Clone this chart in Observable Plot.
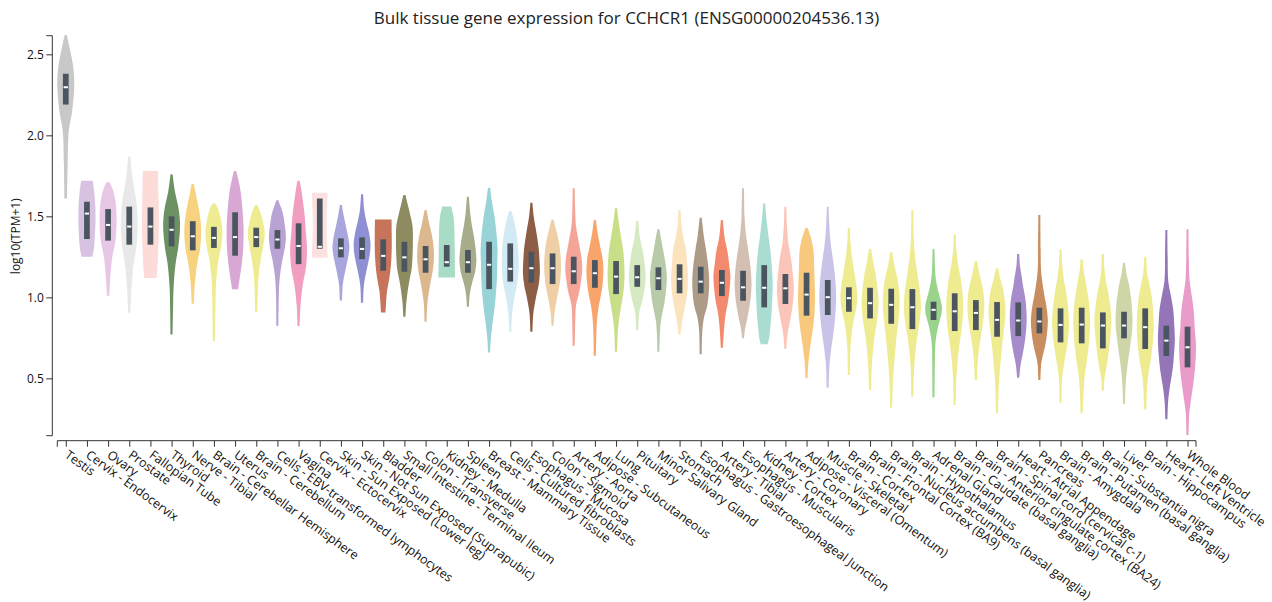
<!DOCTYPE html>
<html>
<head>
<meta charset="utf-8">
<script src="https://cdn.jsdelivr.net/npm/d3@7"></script>
<script src="https://cdn.jsdelivr.net/npm/@observablehq/plot@0.6"></script>
<style>
  html, body { margin: 0; padding: 0; background: #fff; }
  body { width: 1272px; height: 602px; overflow: hidden; font-family: "Open Sans", sans-serif; }
  #title { height: 30px; box-sizing: border-box; padding: 6px 76px 0 57px; text-align: center; font-size: 17px; line-height: 23px; color: #222; }
  svg { display: block; }
</style>
</head>
<body>
<div id="title">Bulk tissue gene expression for CCHCR1 (ENSG00000204536.13)</div>
<div id="chart"></div>
<script>
const tissues = [
  "Testis", "Cervix - Endocervix", "Ovary", "Prostate", "Fallopian Tube", "Thyroid",
  "Nerve - Tibial", "Brain - Cerebellar Hemisphere", "Uterus", "Brain - Cerebellum",
  "Cells - EBV-transformed lymphocytes", "Vagina", "Cervix - Ectocervix",
  "Skin - Sun Exposed (Lower leg)", "Skin - Not Sun Exposed (Suprapubic)", "Bladder",
  "Small Intestine - Terminal Ileum", "Colon - Transverse", "Kidney - Medulla", "Spleen",
  "Breast - Mammary Tissue", "Cells - Cultured fibroblasts", "Esophagus - Mucosa",
  "Colon - Sigmoid", "Artery - Aorta", "Adipose - Subcutaneous", "Lung", "Pituitary",
  "Minor Salivary Gland", "Stomach", "Esophagus - Gastroesophageal Junction",
  "Artery - Tibial", "Esophagus - Muscularis", "Kidney - Cortex", "Artery - Coronary",
  "Adipose - Visceral (Omentum)", "Muscle - Skeletal", "Brain - Cortex",
  "Brain - Frontal Cortex (BA9)", "Brain - Nucleus accumbens (basal ganglia)",
  "Brain - Hypothalamus", "Adrenal Gland", "Brain - Caudate (basal ganglia)",
  "Brain - Anterior cingulate cortex (BA24)", "Brain - Spinal cord (cervical c-1)",
  "Heart - Atrial Appendage", "Pancreas", "Brain - Amygdala", "Brain - Putamen (basal ganglia)",
  "Brain - Substantia nigra", "Liver", "Brain - Hippocampus", "Heart - Left Ventricle", "Whole Blood"
];

const colors = [
  "#c8c8c8", "#d7c2e2", "#e7c6e6", "#e8e8e8", "#fddbd8", "#6c9162",
  "#f8d37f", "#eeeb90", "#d8a7d3", "#eeeb90",
  "#b9a3d5", "#f29ec0", "#fde0e0",
  "#a8a6dc", "#8f8fd3", "#c8745b",
  "#8f8b60", "#dcb88e", "#a8dcc6", "#a8ac8b",
  "#97d3d7", "#d1eaf3", "#8d5e45",
  "#efd0a6", "#f5a597", "#f8a46b", "#c8df87", "#d5e9c3",
  "#b9caa9", "#fbe4bd", "#ad9b88",
  "#f38a6d", "#d4c0b2", "#a9ddd1", "#fbc6b9",
  "#f8c97c", "#c9c4e7", "#eeeb90",
  "#eeeb90", "#eeeb90",
  "#eeeb90", "#9ad38c", "#eeeb90",
  "#eeeb90", "#eeeb90",
  "#a68ccb", "#c98e5f", "#eeeb90", "#eeeb90",
  "#eeeb90", "#ced6a8", "#eeeb90", "#9475b8", "#e99bc9"
];

const q1 = [2.19, 1.36, 1.35, 1.325, 1.325, 1.315, 1.29, 1.305, 1.257, 1.31, 1.30, 1.205, 1.30,
  1.247, 1.236, 1.164, 1.158, 1.152, 1.189, 1.152, 1.051, 1.097, 1.09, 1.082, 1.082, 1.059,
  1.02, 1.065, 1.045, 1.025, 1.025, 1.008, 0.979, 0.938, 0.959, 0.887, 0.891, 0.911, 0.87,
  0.837, 0.804, 0.86, 0.792, 0.798, 0.757, 0.761, 0.778, 0.722, 0.716, 0.685, 0.747, 0.681,
  0.638, 0.568];
const medians = [2.30, 1.52, 1.45, 1.44, 1.44, 1.42, 1.38, 1.37, 1.375, 1.375, 1.36, 1.32, 1.315,
  1.306, 1.302, 1.259, 1.25, 1.238, 1.22, 1.22, 1.204, 1.179, 1.183, 1.183, 1.164, 1.152,
  1.131, 1.127, 1.121, 1.117, 1.10, 1.093, 1.065, 1.062, 1.059, 1.02, 1.004, 0.998, 0.967,
  0.957, 0.942, 0.926, 0.917, 0.907, 0.864, 0.86, 0.854, 0.833, 0.835, 0.829, 0.829, 0.819,
  0.736, 0.695];
const q3 = [2.38, 1.59, 1.545, 1.56, 1.555, 1.50, 1.47, 1.435, 1.525, 1.43, 1.415, 1.457, 1.61,
  1.364, 1.37, 1.358, 1.343, 1.317, 1.323, 1.292, 1.343, 1.333, 1.282, 1.271, 1.251, 1.23,
  1.224, 1.199, 1.185, 1.204, 1.189, 1.169, 1.164, 1.199, 1.144, 1.152, 1.107, 1.062, 1.059,
  1.053, 1.051, 0.973, 1.025, 0.983, 0.971, 0.969, 0.936, 0.932, 0.936, 0.907, 0.911, 0.932,
  0.825, 0.819];

// violin outlines: [log10(TPM+1), relative half-width]
const shapes = [
  [[1.61,0.08],[1.83,0.15],[2.03,0.3],[2.14,0.7],[2.3,1],[2.42,0.88],[2.53,0.45],[2.62,0.04]],
  [[1.25,0.6],[1.3,0.8],[1.45,1],[1.55,1],[1.65,0.85],[1.72,0.65]],
  [[1.01,0.06],[1.13,0.2],[1.25,0.45],[1.35,0.85],[1.47,1],[1.58,0.9],[1.66,0.55],[1.71,0.12]],
  [[0.905,0.05],[1.05,0.18],[1.2,0.45],[1.32,0.85],[1.45,1],[1.58,0.85],[1.68,0.5],[1.78,0.2],[1.87,0.04]],
  [[1.12,0.72],[1.25,0.88],[1.45,1],[1.62,0.95],[1.78,0.88]],
  [[0.77,0.04],[0.95,0.1],[1.05,0.15],[1.2,0.4],[1.32,0.8],[1.45,1],[1.55,0.8],[1.65,0.35],[1.76,0.04]],
  [[0.96,0.05],[1.07,0.15],[1.2,0.45],[1.3,0.85],[1.41,1],[1.5,0.85],[1.58,0.55],[1.65,0.25],[1.7,0.05]],
  [[0.73,0.04],[0.95,0.1],[1.1,0.2],[1.22,0.45],[1.32,0.85],[1.4,1],[1.48,0.8],[1.55,0.4],[1.58,0.08]],
  [[1.05,0.3],[1.1,0.45],[1.2,0.75],[1.3,0.95],[1.42,1],[1.55,0.85],[1.66,0.6],[1.72,0.35],[1.78,0.05]],
  [[0.91,0.05],[1.05,0.12],[1.15,0.25],[1.25,0.55],[1.33,0.85],[1.4,1],[1.47,0.75],[1.53,0.4],[1.57,0.06]],
  [[0.825,0.04],[1.0,0.08],[1.12,0.2],[1.22,0.5],[1.3,0.85],[1.37,1],[1.45,0.85],[1.52,0.6],[1.57,0.25],[1.6,0.04]],
  [[0.823,0.04],[0.95,0.15],[1.08,0.45],[1.18,0.85],[1.29,1],[1.4,0.85],[1.5,0.7],[1.6,0.45],[1.68,0.2],[1.72,0.04]],
  [[1.245,0.92],[1.35,0.85],[1.45,0.8],[1.55,0.85],[1.645,0.92]],
  [[0.98,0.05],[1.08,0.15],[1.17,0.5],[1.25,0.85],[1.31,1],[1.37,0.85],[1.45,0.5],[1.52,0.2],[1.57,0.04]],
  [[0.967,0.05],[1.08,0.15],[1.17,0.5],[1.25,0.85],[1.32,1],[1.4,0.8],[1.46,0.5],[1.54,0.18],[1.637,0.04]],
  [[0.907,0.2],[0.95,0.25],[1.04,0.4],[1.12,0.7],[1.2,0.9],[1.3,1],[1.4,1],[1.48,0.98]],
  [[0.88,0.04],[0.98,0.18],[1.09,0.5],[1.18,0.85],[1.25,0.95],[1.35,1],[1.44,0.95],[1.54,0.5],[1.6,0.2],[1.632,0.04]],
  [[0.85,0.04],[0.97,0.15],[1.08,0.5],[1.17,0.85],[1.25,1],[1.33,0.9],[1.4,0.65],[1.46,0.35],[1.539,0.04]],
  [[1.123,0.98],[1.25,0.95],[1.4,0.9],[1.497,0.78],[1.56,0.47]],
  [[0.942,0.04],[1.02,0.15],[1.09,0.45],[1.16,0.85],[1.23,1],[1.3,0.9],[1.37,0.7],[1.45,0.4],[1.52,0.2],[1.621,0.04]],
  [[0.66,0.04],[0.74,0.12],[0.84,0.35],[0.93,0.6],[1.0,0.75],[1.1,0.9],[1.2,0.95],[1.3,1],[1.4,0.85],[1.5,0.6],[1.6,0.25],[1.677,0.04]],
  [[0.788,0.04],[0.9,0.15],[1.0,0.45],[1.1,0.85],[1.19,1],[1.28,0.95],[1.35,0.85],[1.44,0.55],[1.5,0.25],[1.533,0.04]],
  [[0.788,0.04],[0.9,0.15],[1.0,0.5],[1.08,0.85],[1.15,1],[1.23,0.95],[1.3,0.85],[1.4,0.55],[1.5,0.2],[1.584,0.04]],
  [[0.825,0.04],[0.9,0.15],[1.0,0.5],[1.09,0.85],[1.19,1],[1.28,0.9],[1.35,0.7],[1.42,0.35],[1.481,0.04]],
  [[0.701,0.04],[0.85,0.1],[0.95,0.2],[1.03,0.6],[1.1,0.85],[1.17,1],[1.25,0.9],[1.33,0.6],[1.44,0.2],[1.55,0.08],[1.673,0.03]],
  [[0.64,0.04],[0.84,0.15],[0.93,0.35],[0.98,0.55],[1.06,0.85],[1.15,1],[1.24,0.9],[1.31,0.6],[1.4,0.25],[1.477,0.04]],
  [[0.664,0.04],[0.8,0.15],[0.9,0.4],[0.97,0.65],[1.05,0.9],[1.13,1],[1.22,0.95],[1.3,0.8],[1.4,0.45],[1.5,0.15],[1.553,0.04]],
  [[0.798,0.04],[0.9,0.15],[0.98,0.55],[1.05,0.85],[1.13,1],[1.21,0.85],[1.29,0.6],[1.37,0.25],[1.473,0.04]],
  [[0.664,0.04],[0.78,0.1],[0.86,0.25],[0.97,0.7],[1.05,0.9],[1.13,1],[1.2,0.85],[1.27,0.6],[1.35,0.3],[1.42,0.04]],
  [[0.771,0.04],[0.84,0.2],[0.94,0.6],[1.03,0.9],[1.12,1],[1.2,0.9],[1.29,0.75],[1.37,0.4],[1.45,0.15],[1.539,0.04]],
  [[0.648,0.04],[0.8,0.12],[0.88,0.35],[0.95,0.75],[1.03,0.95],[1.1,1],[1.18,0.9],[1.29,0.6],[1.38,0.3],[1.491,0.04]],
  [[0.689,0.04],[0.8,0.18],[0.9,0.4],[0.96,0.65],[1.05,0.9],[1.13,1],[1.2,0.85],[1.29,0.6],[1.37,0.25],[1.477,0.04]],
  [[0.747,0.04],[0.8,0.15],[0.88,0.5],[0.98,0.85],[1.08,1],[1.17,0.9],[1.25,0.7],[1.33,0.45],[1.4,0.25],[1.5,0.1],[1.673,0.03]],
  [[0.71,0.35],[0.75,0.55],[0.82,0.7],[0.9,0.85],[1.0,0.95],[1.08,1],[1.18,0.9],[1.29,0.7],[1.36,0.5],[1.44,0.3],[1.52,0.12],[1.58,0.04]],
  [[0.681,0.04],[0.76,0.15],[0.88,0.6],[0.97,0.9],[1.06,1],[1.15,0.85],[1.25,0.6],[1.33,0.3],[1.45,0.1],[1.559,0.04]],
  [[0.5,0.04],[0.6,0.15],[0.7,0.4],[0.78,0.65],[0.88,0.9],[1.0,1],[1.1,0.95],[1.2,0.88],[1.3,0.78],[1.37,0.45],[1.43,0.04]],
  [[0.442,0.04],[0.57,0.12],[0.68,0.35],[0.8,0.7],[0.9,0.9],[1.0,1],[1.1,0.9],[1.21,0.65],[1.33,0.3],[1.45,0.1],[1.559,0.03]],
  [[0.52,0.04],[0.7,0.12],[0.84,0.45],[0.93,0.85],[1.0,1],[1.08,0.85],[1.17,0.55],[1.25,0.3],[1.33,0.12],[1.43,0.04]],
  [[0.428,0.04],[0.59,0.15],[0.7,0.35],[0.76,0.5],[0.87,0.85],[0.97,1],[1.06,0.85],[1.15,0.6],[1.22,0.3],[1.298,0.04]],
  [[0.319,0.04],[0.45,0.1],[0.57,0.25],[0.68,0.45],[0.76,0.6],[0.86,0.85],[0.97,1],[1.05,0.9],[1.13,0.65],[1.2,0.3],[1.278,0.04]],
  [[0.387,0.04],[0.55,0.12],[0.67,0.3],[0.76,0.55],[0.85,0.85],[0.95,1],[1.05,0.85],[1.13,0.6],[1.25,0.25],[1.38,0.08],[1.539,0.03]],
  [[0.383,0.04],[0.6,0.08],[0.72,0.15],[0.82,0.5],[0.93,1],[1.04,0.5],[1.12,0.18],[1.2,0.08],[1.298,0.03]],
  [[0.335,0.04],[0.5,0.12],[0.62,0.3],[0.72,0.55],[0.82,0.85],[0.94,1],[1.03,0.9],[1.11,0.7],[1.2,0.35],[1.3,0.1],[1.389,0.03]],
  [[0.49,0.04],[0.6,0.15],[0.68,0.3],[0.76,0.55],[0.85,0.85],[0.95,1],[1.04,0.85],[1.09,0.65],[1.16,0.3],[1.224,0.04]],
  [[0.284,0.04],[0.42,0.1],[0.51,0.2],[0.62,0.4],[0.72,0.6],[0.82,0.85],[0.92,1],[1.0,0.85],[1.05,0.7],[1.11,0.35],[1.179,0.04]],
  [[0.504,0.05],[0.58,0.2],[0.68,0.6],[0.76,0.85],[0.86,1],[0.96,0.9],[1.0,0.8],[1.08,0.5],[1.13,0.35],[1.2,0.12],[1.267,0.04]],
  [[0.49,0.04],[0.58,0.12],[0.62,0.25],[0.7,0.65],[0.78,0.9],[0.86,1],[0.95,0.8],[1.0,0.6],[1.09,0.3],[1.17,0.12],[1.3,0.07],[1.508,0.03]],
  [[0.35,0.04],[0.5,0.12],[0.63,0.5],[0.72,0.8],[0.83,1],[0.93,0.9],[1.04,0.6],[1.12,0.3],[1.2,0.12],[1.296,0.04]],
  [[0.284,0.04],[0.42,0.15],[0.52,0.3],[0.6,0.55],[0.72,0.85],[0.84,1],[0.94,0.9],[1.0,0.75],[1.1,0.4],[1.17,0.15],[1.235,0.04]],
  [[0.424,0.04],[0.5,0.12],[0.55,0.3],[0.62,0.55],[0.7,0.75],[0.8,0.95],[0.87,1],[0.95,0.85],[1.03,0.6],[1.1,0.3],[1.18,0.1],[1.267,0.04]],
  [[0.341,0.04],[0.45,0.1],[0.56,0.3],[0.65,0.55],[0.72,0.75],[0.8,0.95],[0.87,1],[0.95,0.9],[1.0,0.8],[1.09,0.5],[1.14,0.25],[1.214,0.04]],
  [[0.309,0.04],[0.44,0.15],[0.52,0.3],[0.59,0.55],[0.7,0.85],[0.82,1],[0.93,0.9],[1.0,0.75],[1.08,0.45],[1.15,0.15],[1.251,0.04]],
  [[0.247,0.04],[0.35,0.12],[0.43,0.3],[0.55,0.7],[0.65,0.9],[0.74,1],[0.85,0.9],[0.92,0.8],[1.02,0.45],[1.1,0.15],[1.25,0.07],[1.415,0.03]],
  [[0.15,0.04],[0.28,0.12],[0.35,0.3],[0.45,0.6],[0.55,0.85],[0.7,1],[0.8,0.85],[0.92,0.7],[1.04,0.35],[1.12,0.15],[1.25,0.07],[1.42,0.03]]
];

const yTicks = [0.5, 1.0, 1.5, 2.0, 2.5];

// ---- build tables for the library ----
const violinPts = shapes.flatMap((s, i) => s.map(([v, w]) => ({i, v, w, color: colors[i]})));
const boxes = tissues.map((t, i) => ({i, q1: q1[i], med: medians[i], q3: q3[i]}));
const hw = w => 0.035 + 0.365 * w;   // half-width in category units
const boxHalf = 0.135, medHalf = 0.1;

// axis domain lines with outer ticks (offset like d3 axes)
const axisLines = (index, scales, values, dims) => {
  const l = dims.marginLeft, r = dims.width - dims.marginRight;
  const t = dims.marginTop, b = dims.height - dims.marginBottom;
  const g = d3.create("svg:g").attr("fill", "none").attr("stroke", "#333").attr("stroke-width", 1);
  g.append("path").attr("d", `M${l - 11},${t}H${l - 5}V${b}H${l - 11}`);
  g.append("path").attr("d", `M${l},${b + 11}V${b + 5}H${r}V${b + 11}`);
  return g.node();
};

const chart = Plot.plot({
  width: 1272,
  height: 572,
  marginLeft: 57.3,
  marginRight: 76,
  marginTop: 5.7,
  marginBottom: 166.3,
  style: {fontFamily: "'Open Sans', sans-serif", fontSize: "12px", color: "#111", background: "#fff"},
  x: {domain: [-0.4, tissues.length - 0.6], axis: null},
  y: {domain: [0.146, 2.615], axis: null},
  color: {type: "identity"},
  marks: [
    Plot.areaX(violinPts, {
      y: "v",
      x1: d => d.i - hw(d.w),
      x2: d => d.i + hw(d.w),
      z: "i",
      fill: "color",
      curve: "catmull-rom"
    }),
    Plot.rect(boxes, {x1: d => d.i - boxHalf, x2: d => d.i + boxHalf, y1: "q1", y2: "q3", fill: "#4b5560"}),
    Plot.ruleY(boxes, {y: "med", x1: d => d.i - medHalf, x2: d => d.i + medHalf, stroke: "#fff", strokeWidth: 2}),
    Plot.axisY(yTicks, {anchor: "left", tickFormat: d3.format(".1f"), tickSize: 6, dx: -5, fontSize: 12, label: null, stroke: "#333"}),
    Plot.axisX(d3.range(tissues.length), {anchor: "bottom", tickFormat: i => tissues[i], tickSize: 6, dy: 5, tickRotate: 36, fontSize: 12.5, label: null, stroke: "#333"}),
    Plot.text(["log10(TPM+1)"], {frameAnchor: "left", textAnchor: "middle", rotate: -90, dx: -42, fontSize: 12, fill: "#111"}),
    axisLines
  ]
});
document.getElementById("chart").appendChild(chart);
</script>
</body>
</html>
